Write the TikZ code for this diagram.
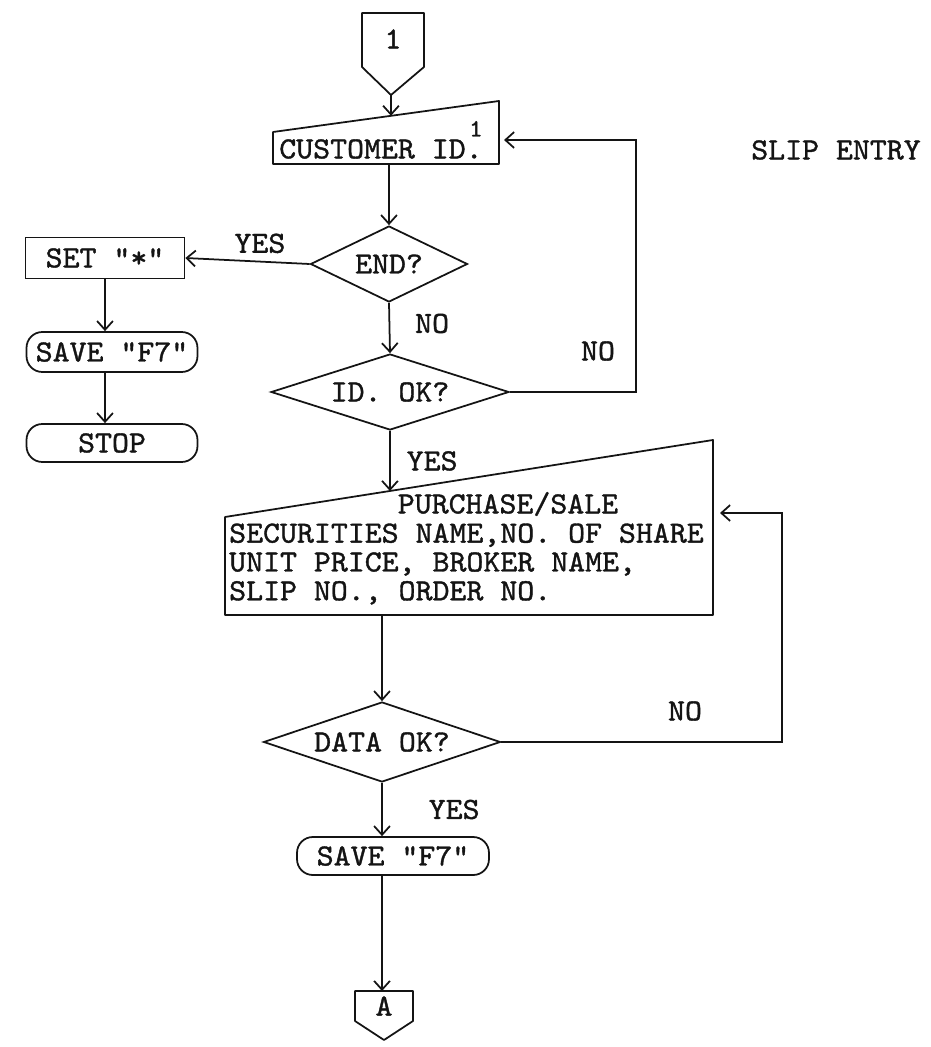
\documentclass[tikz,border=0pt]{standalone}
\usepackage{fontspec}
\setmonofont{lmmono10-regular}[Extension=.otf, FakeStretch=1.05, FakeBold=1.2]
\usepackage{tikz}
\usetikzlibrary{shapes.geometric, arrows.meta, positioning, calc}
\definecolor{inkdark}{RGB}{20,20,20}
\tikzset{
  lbl/.style={font=\ttfamily\fontsize{17.5}{20}\selectfont, text=inkdark},
  decision/.style={diamond, draw=inkdark, line width=1pt, inner sep=0pt},
  process/.style={rectangle, draw=inkdark, line width=1pt},
  terminal/.style={rectangle, draw=inkdark, line width=1pt, rounded corners=9pt},
  arrow/.style={-{Straight Barb[length=5pt,width=9pt]}, line width=1pt, color=inkdark},
  line/.style={line width=1pt, color=inkdark, line join=round}
}

\begin{document}
\begin{tikzpicture}[x=0.02cm, y=-0.02cm, every node/.style={lbl}]
  \useasboundingbox (0,0) rectangle (930,1047);

  % off-page connector 1
  \draw[line] (362,13) -- (424,13) -- (424,67) -- (391,95) -- (362,67) -- cycle;
  \coordinate (con1tip) at (391,95);
  \node (con1) at (393,39) {1};

  % customer id input
  \coordinate (custbl) at (273,164);
  \coordinate (custbr) at (499,164);
  \coordinate (custtr) at (499,101);
  \coordinate (custtl) at (273,132);
  \draw[line] (custbl) -- (custbr) -- (custtr) -- (custtl) -- cycle;
  \node (cust) at (381,149) {CUSTOMER ID.\llap{\smash{\raisebox{12.5pt}{\fontsize{14}{14}\selectfont 1}}}};
  \draw[arrow] (con1tip) -- ($(custtl)!0.522!(custtr)$);

  \node (title) at (836,150) {SLIP ENTRY};

  \node[decision, minimum width=3.14cm, minimum height=1.52cm, label=center:{END?}] (end) at (389,264) {};
  \draw[arrow] (custbl -| end.north) -- (end.north);

  \node[process, minimum width=3.18cm, minimum height=0.82cm] (set) at (105,258) {SET "*"};
  \draw[arrow] (end.west) -- (set.east) node[pos=0.4, above=1pt] (yes1) {YES};

  \node[terminal, minimum width=3.42cm, minimum height=0.8cm] (save1) at (112,352) {SAVE "F7"};
  \node[terminal, minimum width=3.42cm, minimum height=0.76cm] (stop) at (112,443) {STOP};
  \draw[arrow] (set.south) -- (set.south |- save1.north);
  \draw[arrow] (save1.south -| set.south) -- (set.south |- stop.north);

  \node[decision, minimum width=4.76cm, minimum height=1.52cm, label=center:{ID. OK?}] (idok) at (390,392) {};
  \draw[arrow] (end.south) -- (idok.north) node[pos=0.41, right=0.38cm] (no1) {NO};

  \coordinate (loop1) at (636,140);
  \coordinate (custin) at (504,140);
  \draw[arrow] (idok.east) -| (loop1) -- (custin);
  \node (no2) at (598,351) {NO};

  % slip data input
  \coordinate (slipbl) at (225,615);
  \coordinate (slipbr) at (713,615);
  \coordinate (sliptr) at (713,440);
  \coordinate (sliptl) at (225,517);
  \draw[line] (slipbl) -- (slipbr) -- (sliptr) -- (sliptl) -- cycle;
  \draw[arrow] (idok.south) -- ($(sliptl)!0.338!(sliptr)$) node[midway, right=0.2cm] (yes2) {YES};
  \node (slipa) at (508,504) {PURCHASE/SALE};
  \node[anchor=west, align=left, font=\ttfamily\fontsize{17.5}{16.4}\selectfont] (slipb) at (223,564)
    {SECURITIES NAME,NO. OF SHARE\\UNIT PRICE, BROKER NAME,\\SLIP NO., ORDER NO.};

  \node[decision, minimum width=4.74cm, minimum height=1.6cm, label=center:{DATA OK?}] (dataok) at (382,742) {};
  \draw[arrow] (slipbl -| dataok.north) -- (dataok.north);

  \coordinate (loop2) at (782,513);
  \coordinate (slipin) at (720,513);
  \draw[arrow] (dataok.east) -| (loop2) -- (slipin);
  \node (no3) at (685,711) {NO};

  \node[terminal, minimum width=3.84cm, minimum height=0.76cm] (save2) at (393,856) {SAVE "F7"};
  \draw[arrow] (dataok.south) -- (dataok.south |- save2.north) node[midway, right=0.8cm] (yes3) {YES};

  % off-page connector A
  \draw[line] (355,991) -- (413,991) -- (413,1021) -- (384,1040) -- (355,1021) -- cycle;
  \node (conA) at (384,1006) {A};
  \coordinate (conAtop) at (382,991);
  \draw[arrow] (save2.south -| dataok.south) -- (conAtop);
\end{tikzpicture}
\end{document}
